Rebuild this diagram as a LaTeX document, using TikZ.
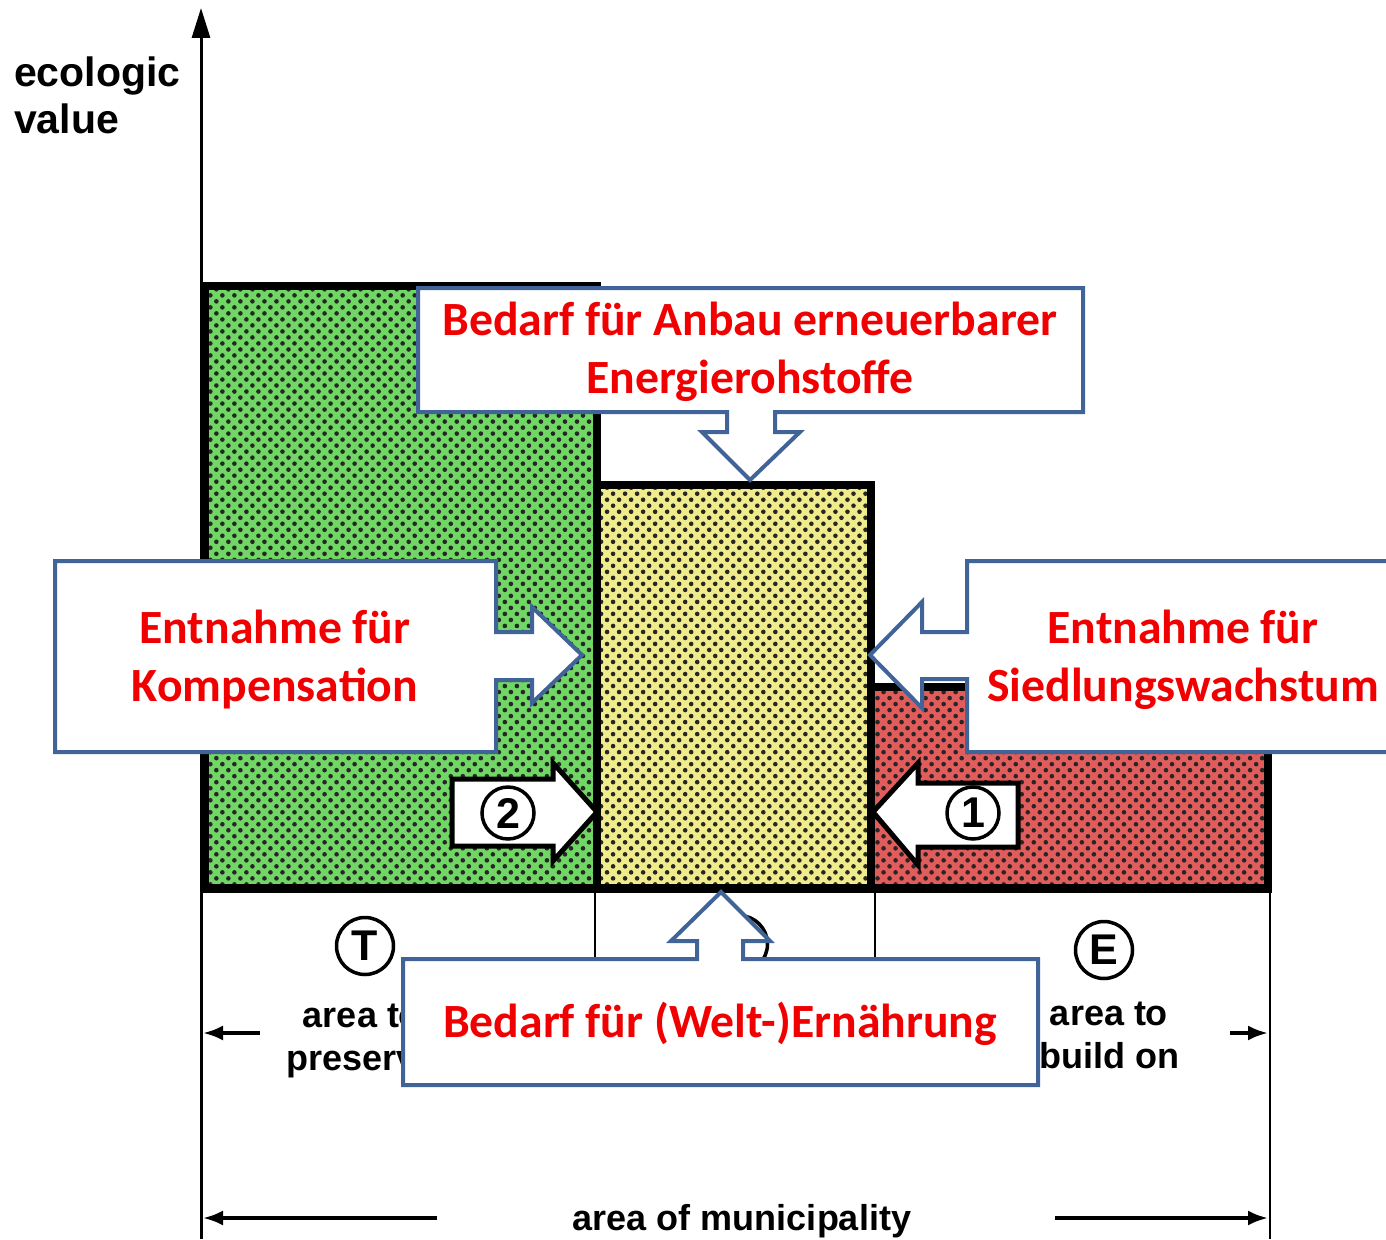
\documentclass[tikz,border=0pt]{standalone}
\usepackage{fontspec}
\setmainfont{Liberation Sans}
\newfontfamily\calib{Carlito}
\usetikzlibrary{patterns.meta,arrows.meta}
\definecolor{grn}{RGB}{112,214,100}
\definecolor{ylw}{RGB}{240,236,140}
\definecolor{rd}{RGB}{226,92,92}
\definecolor{cbl}{RGB}{64,100,152}
\definecolor{cred}{RGB}{240,0,0}
\begin{document}
\begin{tikzpicture}[x=1pt,y=-1pt,
  halftone/.style={pattern={Dots[distance=8.5pt,radius=2.3pt,angle=45]},pattern color=black!85},
  border/.style={line width=8pt,line join=miter},
  thin/.style={line width=2.5pt},
  callout/.style={draw=cbl,line width=4pt,fill=white,line join=miter},
  ctext/.style={text=cred,font=\calib\bfseries\fontsize{47.7}{58}\selectfont,align=center,inner sep=0pt},
  lbl/.style={font=\bfseries\fontsize{36}{43}\selectfont,align=center,inner sep=0pt},
  numarrow/.style={draw=black,line width=5pt,fill=white,line join=miter},
  numcircle/.style={circle,draw=black,line width=3.5pt,minimum size=57pt,inner sep=0pt,font=\bfseries\fontsize{43}{43}\selectfont},
  dimarrow/.style={line width=3.5pt,-{Latex[length=20pt,width=15pt]}}]
\useasboundingbox[fill=white] (0,0) rectangle (1386,1239);

% coloured areas
\fill[grn] (201,282) rectangle (598,890);
\fill[halftone] (201,282) rectangle (598,890);
\fill[ylw] (598,485) rectangle (871,890);
\fill[halftone] (598,485) rectangle (871,890);
\fill[rd] (871,687) rectangle (1268,890);
\fill[halftone] (871,687) rectangle (1268,890);

% borders
\draw[border] (205,890) -- (205,286) -- (597,286) -- (597,890);
\draw[border] (597,485) -- (871,485) -- (871,890);
\draw[border] (871,687) -- (1268,687) -- (1268,890);
\draw[line width=9pt] (201,888) -- (1272,888);

% axis
\coordinate (ybot) at (201,1239);
\coordinate (ytop) at (201,8);
\draw[line width=3pt,-{Triangle[length=30pt,width=18pt]}] (ybot) -- (ytop);
\node[anchor=north west,align=left,inner sep=0pt,font=\bfseries\fontsize{41}{47}\selectfont] (yl) at (14,57) {ecologic\\value};

% lower partition lines
\coordinate (p1a) at (595,890); \coordinate (p1b) at (595,958);
\coordinate (p2a) at (875,890); \coordinate (p2b) at (875,958);
\coordinate (p3a) at (1270,890); \coordinate (p3b) at (1270,1239);
\draw[thin] (p1a) -- (p1b);
\draw[thin] (p2a) -- (p2b);
\draw[thin] (p3a) -- (p3b);

% circles
\node[numcircle] (cT) at (365,946) {T};
\node[numcircle] (cE) at (1104,950) {E};
\node[numcircle] (cM) at (739,944) {};

% labels below
\node[lbl] (lT) at (362,1041) {area to\\preserve};
\node[lbl] (lE) at (1109,1035) {area to\\build on};
\node[lbl,anchor=base] (lM) at (742,1230) {area of municipality};

% dimension arrows
\coordinate (a1s) at (260,1033); \coordinate (a1e) at (203,1033);
\coordinate (a2s) at (1230,1033); \coordinate (a2e) at (1268,1033);
\coordinate (a3s) at (437,1218); \coordinate (a3e) at (203,1218);
\coordinate (a4s) at (1055,1218); \coordinate (a4e) at (1268,1218);
\draw[dimarrow] (a1s) -- (a1e);
\draw[dimarrow] (a2s) -- (a2e);
\draw[dimarrow] (a3s) -- (a3e);
\draw[dimarrow] (a4s) -- (a4e);

% numbered block arrows
\draw[numarrow] (452,779) -- (553,779) -- (553,763) -- (597,812) -- (553,861) -- (553,846) -- (452,846) -- cycle;
\node[numcircle,minimum size=52pt] (n2) at (508,813) {2};
\draw[numarrow] (1018,783) -- (918,783) -- (918,763) -- (873,812) -- (918,865) -- (918,847) -- (1018,847) -- cycle;
\node[numcircle,minimum size=52pt] (n1) at (973,813) {1};

% callouts
\draw[callout] (418,288) -- (1083,288) -- (1083,412) -- (775,412) -- (775,432) -- (800,432) -- (750,480) -- (702,432) -- (727,432) -- (727,412) -- (418,412) -- cycle;
\node[ctext] (tTop) at (750,352) {Bedarf für Anbau erneuerbarer\\Energierohstoffe};

\draw[callout] (55,561) -- (496,561) -- (496,632) -- (532,632) -- (532,607) -- (582,655) -- (532,703) -- (532,680) -- (496,680) -- (496,752) -- (55,752) -- cycle;
\node[ctext] (tLeft) at (275,660) {Entnahme für\\Kompensation};

\draw[callout] (1400,561) -- (967,561) -- (967,632) -- (922,632) -- (922,602) -- (870,655) -- (922,708) -- (922,679) -- (967,679) -- (967,752) -- (1400,752) -- cycle;
\node[ctext] (tRight) at (1183,660) {Entnahme für\\Siedlungswachstum};

\draw[callout] (403,959) -- (697,959) -- (697,941) -- (671,941) -- (721,892) -- (770,941) -- (743,941) -- (743,959) -- (1038,959) -- (1038,1085) -- (403,1085) -- cycle;
\node[ctext] (tBot) at (720,1024) {Bedarf für (Welt-)Ernährung};
\end{tikzpicture}
\end{document}
